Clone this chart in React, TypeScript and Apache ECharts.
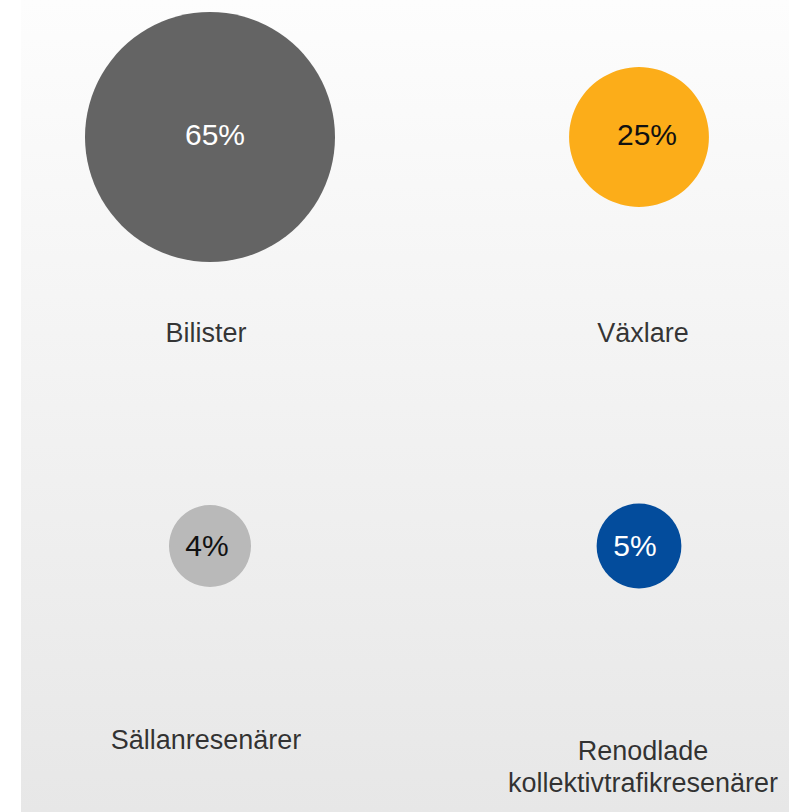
import React, { useEffect, useRef } from "react";
import * as echarts from "echarts";

// ---- data ----
const categories = ["Bilister", "Växlare", "Sällanresenärer", "Renodlade\nkollektivtrafikresenärer"];
const shares = [65, 25, 4, 5]; // percent
const columns = [0, 1, 0, 1];
const rows = [0, 0, 1, 1];
const colors = ["#646464", "#fcad19", "#b9b9b9", "#034c9c"];
const valueTextColors = ["#ffffff", "#111111", "#111111", "#ffffff"];

// ---- layout (not data) ----
const NAME_OFFSETS: [number, number][] = [[-4, 196], [4, 196], [-4, 194], [4, 221]];
const VALUE_OFFSETS: [number, number][] = [[5, -3], [8, -3], [-3, -1], [-4, -1]];

const FONT = "Arial, 'Liberation Sans', sans-serif";

export default function App() {
  const ref = useRef<HTMLDivElement>(null);
  useEffect(() => {
    document.body.style.margin = "0";
    const chart = echarts.init(ref.current!, undefined, { renderer: "svg" });
    const bubbleData = categories.map((name, i) => ({
      name,
      value: [columns[i], rows[i], shares[i]],
      itemStyle: { color: colors[i] },
      label: { color: valueTextColors[i], offset: VALUE_OFFSETS[i] },
    }));
    const nameData = categories.map((name, i) => ({
      name,
      value: [columns[i], rows[i]],
      label: { offset: NAME_OFFSETS[i] },
    }));
    chart.setOption({
      animation: false,
      backgroundColor: "#ffffff",
      textStyle: { fontFamily: FONT },
      graphic: [
        {
          type: "rect",
          left: 21,
          top: 0,
          z: -10,
          silent: true,
          shape: { width: 768, height: 812 },
          style: {
            fill: new echarts.graphic.LinearGradient(0, 0, 0, 1, [
              { offset: 0, color: "#fdfdfd" },
              { offset: 1, color: "#e7e7e7" },
            ]),
          },
        },
      ],
      grid: { left: 210, right: 150, top: 137, bottom: 266 },
      xAxis: {
        type: "category",
        data: ["c0", "c1"],
        boundaryGap: false,
        show: false,
      },
      yAxis: {
        type: "category",
        data: ["r0", "r1"],
        boundaryGap: false,
        inverse: true,
        show: false,
      },
      series: [
        {
          type: "scatter",
          data: bubbleData,
          symbol: "circle",
          symbolSize: (v: number[]) => 2 * (35.5 + 1.377 * v[2]),
          itemStyle: { opacity: 1 },
          label: {
            show: true,
            position: "inside",
            formatter: (p: any) => p.value[2] + "%",
            fontSize: 30,
            fontFamily: FONT,
          },
          emphasis: { disabled: true },
          z: 3,
        },
        {
          type: "scatter",
          data: nameData,
          symbolSize: 0,
          label: {
            show: true,
            position: "inside",
            formatter: (p: any) => p.name,
            fontSize: 27,
            lineHeight: 32,
            color: "#000000",
            fontFamily: FONT,
            align: "center",
            verticalAlign: "middle",
          },
          emphasis: { disabled: true },
          silent: true,
          z: 4,
        },
      ],
    });
    return () => chart.dispose();
  }, []);
  return (
    <div
      ref={ref}
      style={{ position: "absolute", left: 0, top: 0, width: 789, height: 812 }}
    />
  );
}
